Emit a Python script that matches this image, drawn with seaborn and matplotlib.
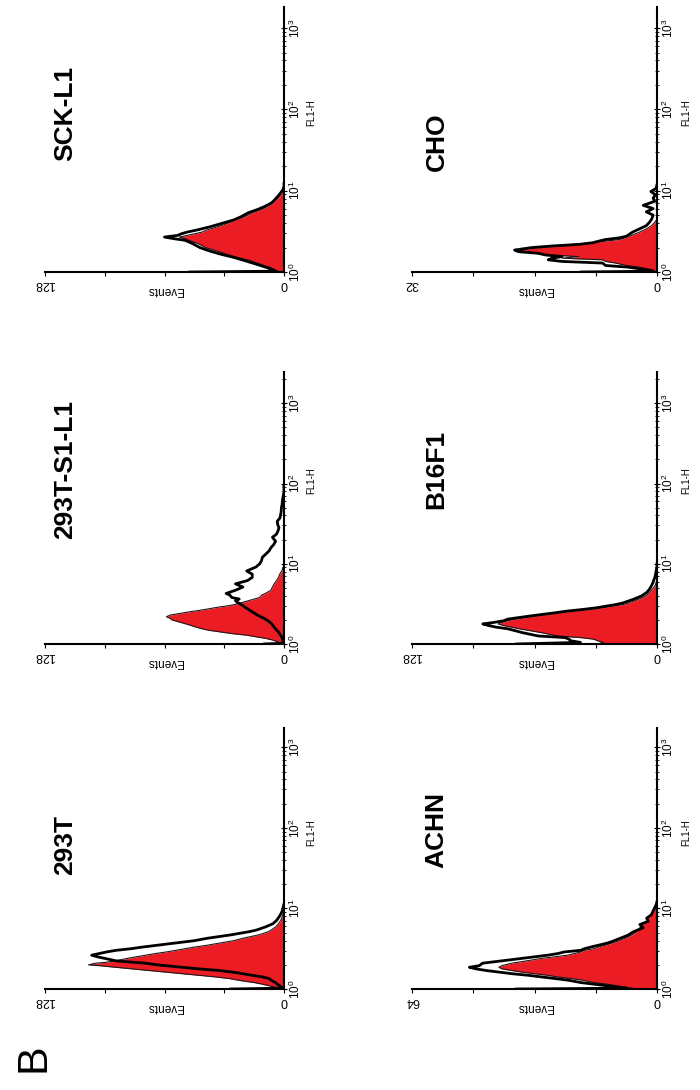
import numpy as np
import matplotlib
matplotlib.use("Agg")
import matplotlib.pyplot as plt
import seaborn as sns
from matplotlib.ticker import FixedLocator, LogLocator, NullFormatter

# ==========================================================
# Data : FL1-H histograms (exponent of FL1-H, events)
# red = stained sample (filled), black = control (open line)
# ==========================================================

panel_names = ["SCK-L1", "CHO", "293T-S1-L1", "B16F1", "293T", "ACHN"]
panel_max = [128, 32, 128, 128, 128, 64]

sck_exp = [0.0, 0.01, 0.05, 0.09, 0.14, 0.18, 0.22, 0.26, 0.30, 0.35, 0.39, 0.41, 0.43, 0.45, 0.47,
           0.49, 0.52, 0.56, 0.60, 0.64, 0.68, 0.73, 0.77, 0.81, 0.85, 0.89, 0.94, 0.98, 1.02, 1.06, 1.10]
sck_red = [31, 3, 6.7, 12, 18, 25, 31, 36, 42, 46, 51, 53, 56, 52, 48,
           44, 41, 35, 30, 26, 21, 17, 12, 8.5, 5.8, 4, 2.2, 0.9, 0, 0, 0]
sck_black = [51, 4.9, 8.5, 14, 21, 27, 34, 40, 45, 49, 53, 59, 64, 57, 55,
             52, 46, 39, 33, 27, 23, 19, 14, 10, 6.7, 4.9, 3, 1.6, 0.4, 0, 0]

cho_exp = [0.0, 0.01, 0.02, 0.04, 0.06, 0.08, 0.11, 0.13, 0.15, 0.17, 0.19, 0.21, 0.23, 0.25, 0.27,
           0.30, 0.32, 0.34, 0.36, 0.38, 0.40, 0.42, 0.44, 0.49, 0.53, 0.57, 0.61, 0.65, 0.70, 0.74,
           0.78, 0.82, 0.87, 0.91, 0.95, 0.99, 1.03, 1.08]
cho_red = [5, 0.3, 0.7, 1.4, 2.3, 4, 5.4, 6.7, 7.1, 12.4, 10.2, 14.2, 15.9, 17.2, 17.9,
           15.5, 12.4, 11.1, 8.4, 6.7, 4.9, 4.2, 3.6, 2.3, 1.4, 0.7, 0.3, 0, 0, 0,
           0, 0, 0, 0, 0, 0, 0, 0]
cho_black = [10, 0.5, 0.7, 2.3, 3.8, 6.7, 7.1, 12.4, 14.2, 13.7, 12.4, 14.6, 15.5, 18.1, 18.6,
             16.4, 13.7, 10.2, 8.4, 7.6, 6.7, 4.9, 4, 3.2, 2.3, 1.4, 1, 0.7, 0.5, 1.4,
             0.5, 1.8, 0.3, 0.5, 0.2, 0.8, 0.1, 0]

s1_exp = [0.0, 0.01, 0.03, 0.05, 0.07, 0.09, 0.11, 0.13, 0.15, 0.17, 0.19, 0.21, 0.24, 0.26, 0.28,
          0.30, 0.32, 0.34, 0.36, 0.38, 0.40, 0.42, 0.44, 0.46, 0.48, 0.50, 0.52, 0.54, 0.56, 0.58,
          0.61, 0.63, 0.65, 0.67, 0.71, 0.75, 0.79, 0.83, 0.87, 0.91, 0.96, 1.00, 1.04, 1.08, 1.12,
          1.16, 1.20, 1.24, 1.28, 1.33, 1.37, 1.41, 1.45, 1.49, 1.53, 1.57, 1.61, 1.65, 1.70, 1.74,
          1.78, 1.82, 1.86, 1.90, 1.94, 1.98]
s1_red = [2, 1.8, 3.6, 6.2, 9.8, 15, 20, 28, 34, 40, 44, 47, 51, 54, 57,
          60, 61, 63, 61, 56, 51, 45, 40, 35, 29, 25, 22, 19, 16, 13,
          12, 10, 8.5, 7, 6.2, 5.3, 4, 3, 2.3, 1.2, 0.4, 0, 0, 0, 0,
          0, 0, 0, 0, 0, 0, 0, 0, 0, 0, 0, 0, 0, 0, 0,
          0, 0, 0, 0, 0, 0]
s1_black = [11, 0.3, 0.4, 0.7, 0.9, 1.3, 1.8, 2.4, 3, 3.8, 4.5, 5.3, 6.2, 7, 8,
            9.3, 10.7, 12.5, 14.2, 15.5, 17, 18.3, 19.6, 21, 22, 23.5, 25, 26, 24, 28,
            29, 31, 28.5, 26, 22, 26, 19.6, 17, 17, 20, 15, 13, 12, 11.6, 9.8,
            8, 7, 5.5, 4.5, 6.2, 4, 3.2, 2.7, 3.4, 3.6, 2.2, 1.8, 1.5, 1.4, 1,
            0.9, 0.6, 0.3, 0, 0, 0]

b16_exp = [0.0, 0.02, 0.04, 0.06, 0.08, 0.10, 0.14, 0.19, 0.21, 0.23, 0.25, 0.27, 0.29, 0.31, 0.35,
           0.39, 0.41, 0.43, 0.45, 0.47, 0.49, 0.51, 0.56, 0.60, 0.64, 0.68, 0.72, 0.76, 0.80, 0.84,
           0.89, 0.93, 0.97, 1.01]
b16_red = [31, 28, 31, 33, 40, 52, 60, 72, 76, 80, 83, 81, 78, 74, 63,
           51, 44, 35, 29, 24, 18, 15, 9.4, 5.8, 4, 2.5, 1.2, 0.5, 0, 0,
           0, 0, 0, 0]
b16_black = [74, 40, 45, 46, 48, 62, 70, 78, 84, 88, 91, 85, 80, 78, 66,
             53, 47, 39, 32, 27, 22, 18, 12, 8, 5.5, 4, 3, 2.2, 1.6, 1,
             0.6, 0.3, 0, 0]

t293_exp = [0.0, 0.01, 0.03, 0.04, 0.06, 0.08, 0.10, 0.13, 0.15, 0.17, 0.19, 0.21, 0.23, 0.25, 0.27,
            0.29, 0.30, 0.32, 0.33, 0.35, 0.38, 0.40, 0.42, 0.44, 0.46, 0.48, 0.50, 0.52, 0.54, 0.56,
            0.58, 0.60, 0.63, 0.65, 0.67, 0.69, 0.71, 0.73, 0.77, 0.81, 0.85, 0.90, 0.94, 0.98, 1.02,
            1.06]
t293_red = [4, 3.6, 6, 8, 11.6, 16, 22, 29.5, 36.7, 45.6, 54.6, 63.5, 72.5, 81.4, 90.4,
            99, 104.7, 101, 96, 90, 84, 79, 74, 69, 63, 58, 53, 48, 42, 37,
            32, 27, 22, 18, 14, 11, 8.5, 7, 4.5, 3, 1.8, 0.9, 0.4, 0, 0,
            0]
t293_black = [29, 0.9, 1.8, 2.3, 3.6, 4.5, 6.3, 8, 11.6, 17, 22, 27.7, 35, 45.6, 54.6,
              63.5, 68, 74, 80, 90, 96, 100, 103, 99, 95, 90, 82, 76, 69, 62,
              55, 48, 41, 35, 29, 24, 19, 15, 10, 6, 4, 2.5, 1.5, 0.8, 0.4,
              0]

achn_exp = [0.0, 0.01, 0.02, 0.04, 0.06, 0.08, 0.11, 0.13, 0.15, 0.17, 0.19, 0.21, 0.23, 0.25, 0.27,
            0.29, 0.32, 0.34, 0.36, 0.38, 0.40, 0.42, 0.44, 0.46, 0.48, 0.50, 0.53, 0.55, 0.57, 0.59,
            0.63, 0.67, 0.71, 0.76, 0.80, 0.84, 0.88, 0.92, 0.97, 1.01, 1.05, 1.09]
achn_red = [9, 6.2, 7.9, 10.5, 13, 16.5, 19.5, 22.5, 26, 28.5, 32, 35.3, 38, 40.5, 41.3,
            40.5, 38, 35.3, 32.7, 30.2, 26.7, 23.3, 21.6, 19.9, 19, 16.5, 14.7, 13, 11.7, 10.5,
            8.3, 6.6, 5.3, 4.5, 3.6, 2.7, 2.1, 1.5, 0.9, 0.2, 0, 0]
achn_black = [37, 7.9, 9.6, 13, 16.5, 19.9, 23.3, 26.7, 30.2, 33.6, 37.9, 41.3, 44.7, 47.3, 49,
              46.4, 45.6, 42.2, 38.7, 35.3, 31.9, 28.5, 25.9, 24.2, 19.9, 19, 16.5, 14.7, 13, 11.7,
              9.6, 7.5, 6.2, 3.6, 4.5, 2.3, 2.7, 1.5, 1, 0.6, 0.2, 0]

panel_exp = [sck_exp, cho_exp, s1_exp, b16_exp, t293_exp, achn_exp]
panel_red = [sck_red, cho_red, s1_red, b16_red, t293_red, achn_red]
panel_black = [sck_black, cho_black, s1_black, b16_black, t293_black, achn_black]

# ==========================================================
# Layout (figure is drawn turned on its side, like the original)
# ==========================================================

RED = "#ec1c24"
W, H = 700, 1090

col_x = [(45, 284), (412, 657)]
row_y = [(7, 272), (372, 644), (728, 989)]
row_top = [3.26, 3.39, 3.24]
title_xy = [(0.085, 0.60), (0.10, 0.49), (0.085, 0.64),
            (0.10, 0.64), (0.085, 0.55), (0.10, 0.61)]

sns.set_style("white")
plt.rcParams["font.family"] = ["Liberation Sans", "DejaVu Sans"]
plt.rcParams["mathtext.fontset"] = "custom"
plt.rcParams["mathtext.rm"] = "Liberation Sans"
plt.rcParams["mathtext.it"] = "Liberation Sans:italic"
for key in ["text.color", "axes.labelcolor", "xtick.color", "ytick.color"]:
    plt.rcParams[key] = "black"

fig = plt.figure(figsize=(W / 100, H / 100), dpi=100)

for i, name in enumerate(panel_names):
    row, col = divmod(i, 2)
    x0, x1 = col_x[col]
    yt, yb = row_y[row]
    ax = fig.add_axes([x0 / W, 1 - yb / H, (x1 - x0) / W, (yb - yt) / H])

    ax.set_yscale("log")
    fl = 10 ** np.array(panel_exp[i])
    red = np.array(panel_red[i])
    black = np.array(panel_black[i])

    ax.fill_betweenx(fl, 0, red, color=RED, lw=0, zorder=1)
    sns.lineplot(x=red, y=fl, orient="y", sort=False, estimator=None,
                 color="#1a1a1a", lw=0.8, ax=ax, zorder=2)
    sns.lineplot(x=black, y=fl, orient="y", sort=False, estimator=None,
                 color="black", lw=2.0, ax=ax, zorder=3)

    m = panel_max[i]
    ax.set_xlim(m, 0)
    ax.set_ylim(1, 10 ** row_top[row])

    # count axis (horizontal, bottom)
    ax.xaxis.set_major_locator(FixedLocator([0, m / 4, m / 2, 3 * m / 4, m]))
    ax.set_xticklabels(["0", "", "", "", str(m)], rotation=180)
    ax.tick_params(axis="x", direction="out", length=3, width=0.8,
                   labelsize=9, pad=1, bottom=True)
    ax.set_xlabel("Events", rotation=180, fontsize=8.5, labelpad=-4)

    # FL1-H axis (vertical, right side)
    ax.yaxis.tick_right()
    ax.yaxis.set_label_position("right")
    ax.yaxis.set_major_locator(FixedLocator([1, 10, 100, 1000]))
    ax.set_yticklabels(["$10^0$", "$10^1$", "$10^2$", "$10^3$"], rotation=90, va="center")
    ax.yaxis.set_minor_locator(LogLocator(base=10, subs=np.arange(2, 10)))
    ax.yaxis.set_minor_formatter(NullFormatter())
    ax.tick_params(axis="y", which="major", direction="inout", length=4, width=0.8,
                   labelsize=8.5, pad=1, right=True, left=False)
    ax.tick_params(axis="y", which="minor", direction="inout", length=2.5, width=0.6,
                   right=True, left=False)
    ax.set_ylabel("FL1-H", rotation=90, fontsize=7)
    ax.yaxis.set_label_coords(1.095 if col == 0 else 1.1, 0.6)

    for side in ["left", "top"]:
        ax.spines[side].set_visible(False)
    for side in ["right", "bottom"]:
        ax.spines[side].set_linewidth(1.5)
        ax.spines[side].set_color("black")
    ax.grid(False)

    tx, ty = title_xy[i]
    ax.text(tx, ty, name, transform=ax.transAxes, rotation=90, ha="center", va="center",
            fontsize=19, fontweight="bold")

fig.text(33 / W, 1 - 1058 / H, "B", rotation=90, ha="center", va="center", fontsize=31)

fig.savefig("out.png", dpi=100)
